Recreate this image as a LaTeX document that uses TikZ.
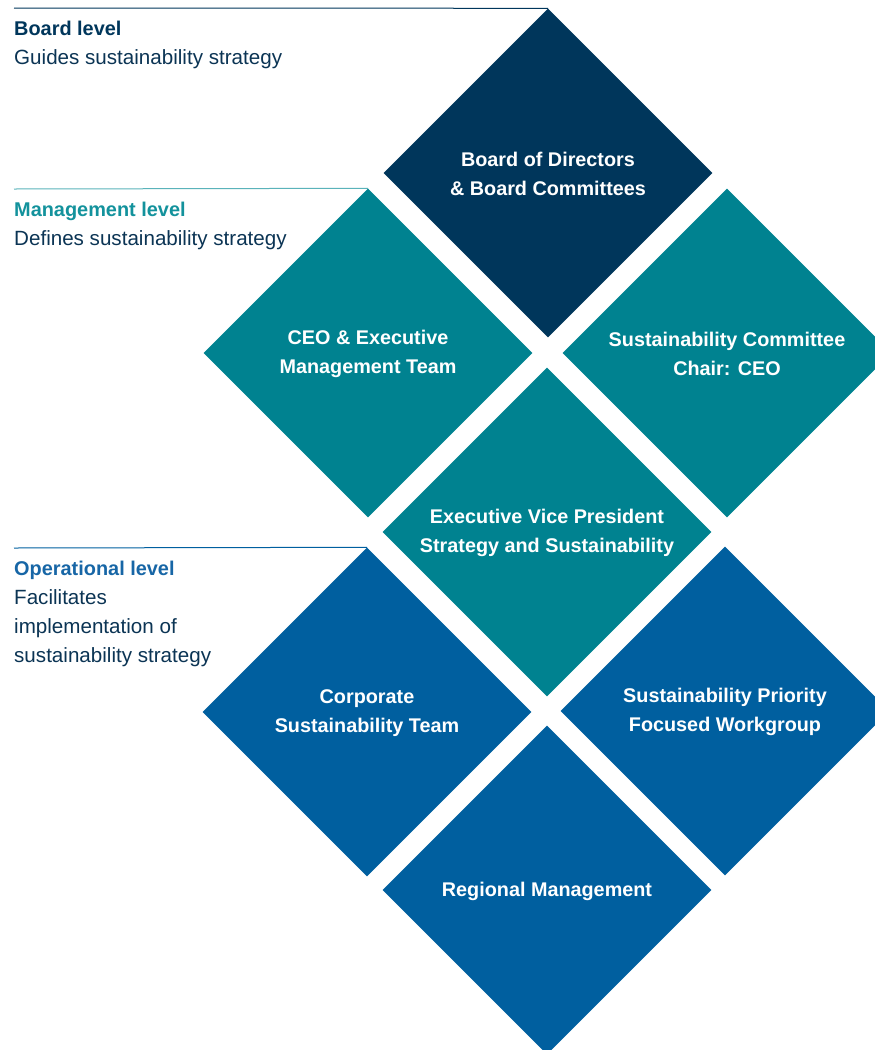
\documentclass[tikz,border=0pt]{standalone}
\usepackage{fontspec}
\setmainfont{Liberation Sans}
\usetikzlibrary{shapes.geometric}
\definecolor{navy}{HTML}{00365B}
\definecolor{teal}{HTML}{008290}
\definecolor{blu}{HTML}{005F9F}
\definecolor{txtnavy}{HTML}{0B3454}
\definecolor{tealtxt}{HTML}{13929C}
\definecolor{blutxt}{HTML}{1766A6}
\begin{document}
\begin{tikzpicture}[x=1pt,y=-1pt,
  dia/.style={diamond,aspect=1,minimum width=329pt,minimum height=329pt,inner sep=0pt},
  dtxt/.style={text=white,font=\fontsize{19.8}{29}\selectfont\bfseries,align=center,inner sep=0pt,yshift=-1pt},
  lbl/.style={anchor=base west,inner sep=0pt,font=\fontsize{20.6}{29}\selectfont,text=txtnavy},
  lvl/.style={lbl,font=\fontsize{19.9}{29}\selectfont\bfseries},
  rule/.style={line width=1pt}]
\useasboundingbox (0,0) rectangle (875,1050);
\node[dia,fill=navy,label={[dtxt]center:Board of Directors\\\& Board Committees}] (board) at (548,173) {};
\node[dia,fill=teal,label={[dtxt]center:CEO \& Executive\\Management Team}] (ceo) at (368,353) {};
\node[dia,fill=teal,label={[dtxt]center:Sustainability Committee\\Chair: CEO}] (sc) at (727,353) {};
\node[dia,fill=teal,label={[dtxt]center:Executive Vice President\\Strategy and Sustainability}] (evp) at (547,532) {};
\node[dia,fill=blu,label={[dtxt]center:Corporate\\Sustainability Team}] (corp) at (367,712) {};
\node[dia,fill=blu,label={[dtxt]center:Sustainability Priority\\Focused Workgroup}] (spfw) at (725,711) {};
\node[dia,fill=blu,label={[dtxt]center:Regional Management}] (reg) at (547,890) {};
\coordinate (b0) at (14,8);
\coordinate (m0) at (14,189);
\coordinate (o0) at (14,548);
\draw[rule,navy] (b0) -- (board.north);
\draw[rule,tealtxt!70] (m0) -- (ceo.north);
\draw[rule,blu] (o0) -- (corp.north);
\node[lvl,text=navy] (bl1) at (14,35) {Board level};
\node[lbl] (bl2) at (14,64) {Guides sustainability strategy};
\node[lvl,text=tealtxt] (ml1) at (14,216) {Management level};
\node[lbl] (ml2) at (14,245) {Defines sustainability strategy};
\node[lvl,text=blutxt] (ol1) at (14,575) {Operational level};
\node[lbl] (ol2) at (14,604) {Facilitates};
\node[lbl] (ol3) at (14,633) {implementation of};
\node[lbl] (ol4) at (14,662) {sustainability strategy};
\end{tikzpicture}
\end{document}
